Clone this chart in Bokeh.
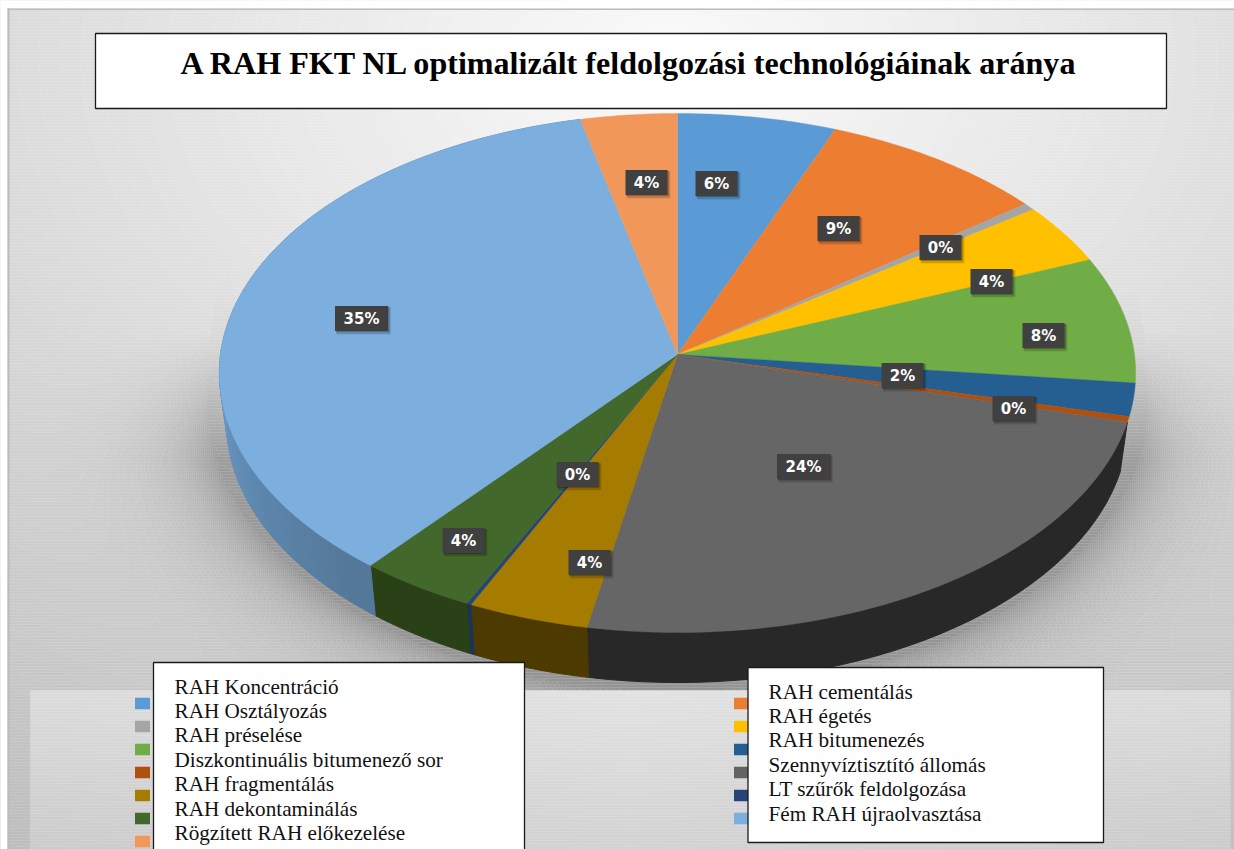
import numpy as np
from bokeh.plotting import figure
from bokeh.models import Range1d, ColumnDataSource
from bokeh.core.properties import value
from bokeh.embed import file_html
from bokeh.resources import INLINE

# ---- data -------------------------------------------------------------
title = "A RAH FKT NL optimalizált feldolgozási technológiáinak aránya"
# slices clockwise from 12 o'clock (percent)
slice_names = ["RAH Koncentráció", "RAH cementálás", "RAH Osztályozás", "RAH égetés",
               "Diszkontinuális bitumenező sor", "RAH bitumenezés", "RAH fragmentálás",
               "Szennyvíztisztító állomás", "RAH dekontaminálás", "LT szűrők feldolgozása",
               "RAH préselése", "Fém RAH újraolvasztása", "Rögzített RAH előkezelése"]
slice_values = [6.0, 8.6, 0.45, 3.8, 7.9, 2.05, 0.35, 23.8, 4.0, 0.15, 3.85, 35.4, 3.65]
slice_colors = ["#5B9BD5", "#ED7D31", "#A5A5A5", "#FFC000", "#70AD47", "#255E91", "#B0500E",
                "#666666", "#A67C00", "#264478", "#43682B", "#7CAFDD", "#F1975A"]
wall_colors = [None, None, None, None, None, None, None,
               "#282828", "#4d3a00", "#1c3358", "#2a4016", "#6090bd", None]

legend_left_colors = ["#5B9BD5", "#A5A5A5", "#70AD47", "#B0500E", "#A67C00", "#43682B", "#F1975A"]
legend_right_colors = ["#ED7D31", "#FFC000", "#255E91", "#636363", "#264478", "#7CAFDD"]
left_box_lines = ["RAH Koncentráció", "RAH Osztályozás", "RAH préselése",
                  "Diszkontinuális bitumenező sor", "RAH fragmentálás",
                  "RAH dekontaminálás", "Rögzített RAH előkezelése"]
right_box_lines = ["RAH cementálás", "RAH égetés", "RAH bitumenezés",
                   "Szennyvíztisztító állomás", "LT szűrők feldolgozása",
                   "Fém RAH újraolvasztása"]

# placement of the data labels, page pixels
label_x = [716, 838, 940, 991, 1043, 902, 1013, 803, 589, 577, 463, 361, 646]
label_y = [183, 228, 247, 281, 335, 375, 408, 466, 562, 474, 540, 318, 182]

# ---- geometry of the perspective pie -----------------------------------
CX, CY, A, B, K = 677.0, 354.0, 457.0, 258.2, 0.0713
DEPTH, SHRINK = 50.0, 0.984
W, H = 1234, 849


def rim(theta, lower=False):
    s, c = np.sin(theta), np.cos(theta)
    d = 1 + K * c
    x = CX + A * s / d
    y = CY - B * c / d
    if lower:
        x = CX + (x - CX) * SHRINK
        y = y + DEPTH
    return x, y


def mix(c1, c2, t):
    a = [int(c1[i:i + 2], 16) for i in (1, 3, 5)]
    b = [int(c2[i:i + 2], 16) for i in (1, 3, 5)]
    return "#%02x%02x%02x" % tuple(int(round(a[i] + (b[i] - a[i]) * t)) for i in range(3))


# ---- background: a shaded panel, drawn as merged runs of pixels ----------
ROW, COL = 3, 2
xx, yy = np.meshgrid(np.arange(0, W, COL) + COL / 2, np.arange(0, H, ROW) + ROW / 2)
r = np.sqrt(((xx - 670) / 900) ** 2 + ((yy - 60) / 620) ** 2)
lum = 250 - 42 * r
e = np.sqrt(((xx - 677) / 470.0) ** 2 + ((yy - 405) / 285.0) ** 2)
dist = np.clip(e - 1, 0, None) * 330
shadow = np.exp(-dist / 36.0)
left_edge = 215 - np.clip(yy - 290, 0, 235) * 0.122
right_edge = 1140 + np.clip(yy - 300, 0, 225) * 0.125
band = np.clip((yy - 290) / 170.0, 0, 1)
inside = (xx > left_edge) & (xx < right_edge) & (yy > 290) & (yy < 530)
wedge = np.where(inside, band, 0) * np.clip((535 - yy) / 60.0, 0, 1)
lum = lum - 60 * np.clip(np.maximum(shadow * np.clip((yy - 330) / 130.0, 0, 1), wedge * 0.36), 0, 1)
panel = (xx >= 30) & (xx <= 1230) & (yy >= 690)
lum = np.where(panel, 226 - (yy - 690) * 0.10 - np.abs(xx - 630) * 0.012, lum)
lum = (np.round(lum)).astype(int)

bg_l, bg_r, bg_t, bg_b, bg_c = [], [], [], [], []
for ri in range(lum.shape[0]):
    row = lum[ri]
    cuts = np.r_[0, np.nonzero(np.diff(row))[0] + 1, row.size]
    for c0, c1 in zip(cuts[:-1], cuts[1:]):
        v = int(row[c0])
        bg_l.append(int(c0) * COL)
        bg_r.append(int(c1) * COL)
        bg_t.append(ri * ROW)
        bg_b.append((ri + 1) * ROW)
        bg_c.append("#%02x%02x%02x" % (v, v, v))

# ---- figure ---------------------------------------------------------------
p = figure(width=W, height=H, output_backend="svg", toolbar_location=None,
           x_range=Range1d(0, W), y_range=Range1d(H, 0),
           min_border=0, outline_line_color=None, background_fill_color="#ffffff")
p.axis.visible = False
p.grid.visible = False
p.quad(left=bg_l, right=bg_r, top=bg_t, bottom=bg_b, fill_color=bg_c, line_color=bg_c, line_width=0.3)
# page margin strip and panel border
p.quad(left=[0, 0], right=[W, 7], top=[0, 0], bottom=[8, H], fill_color="#ffffff", line_color=None)
p.quad(left=[7, 7], right=[W, 9], top=[8, 8], bottom=[9.5, H], fill_color="#bcbcbc", line_color=None)

bounds = np.cumsum([0.0] + slice_values) / sum(slice_values) * 2 * np.pi

# walls
xs, ys, cols = [], [], []
for i in range(len(slice_values)):
    if wall_colors[i] is None:
        continue
    a0, a1 = bounds[i], bounds[i + 1]
    if slice_names[i] == "Fém RAH újraolvasztása":
        n = int((a1 - a0) / np.radians(1.5))
        edges = np.linspace(a0, a1, n + 1)
        for j in range(n):
            t = np.clip((edges[j] - np.radians(222)) / np.radians(50), 0, 1)
            th = np.linspace(edges[j], edges[j + 1], 3)
            tx, ty = rim(th)
            bx, by = rim(th, True)
            xs.append(np.r_[tx, bx[::-1]])
            ys.append(np.r_[ty, by[::-1]])
            cols.append(mix("#547899", "#6c9ccb", float(t)))
    else:
        th = np.linspace(a0, a1, 40)
        tx, ty = rim(th)
        bx, by = rim(th, True)
        xs.append(np.r_[tx, bx[::-1]])
        ys.append(np.r_[ty, by[::-1]])
        cols.append(wall_colors[i])
p.patches(xs="xs", ys="ys", fill_color="cols", line_color="cols", line_width=1.0,
          source=ColumnDataSource(dict(xs=xs, ys=ys, cols=cols)))

# top faces
xs, ys = [], []
for i in range(len(slice_values)):
    th = np.linspace(bounds[i], bounds[i + 1], max(4, int(slice_values[i] * 6)))
    tx, ty = rim(th)
    xs.append(np.r_[CX, tx])
    ys.append(np.r_[CY, ty])
p.patches(xs="xs", ys="ys", fill_color="cols", line_color="cols", line_width=0.4,
          source=ColumnDataSource(dict(xs=xs, ys=ys, cols=slice_colors)))

# data labels
label_text = ["%d%%" % int(round(v)) for v in slice_values]
label_w = [42 if len(t) < 3 else 53 for t in label_text]
src = ColumnDataSource(dict(x=label_x, y=label_y, w=label_w, t=label_text,
                            sx=[v + 2 for v in label_x], sy=[v + 2 for v in label_y],
                            sx2=[v + 1 for v in label_x], sy2=[v + 1 for v in label_y]))
p.rect(x="sx", y="sy", width="w", height=26, fill_color="#000000", fill_alpha=0.16,
       line_color="#000000", line_alpha=0.10, line_width=2, source=src)
p.rect(x="sx2", y="sy2", width="w", height=25, fill_color="#000000", fill_alpha=0.25,
       line_color=None, source=src)
p.rect(x="x", y="y", width="w", height=25, fill_color="#404040", line_color=None, source=src)
p.text(x="x", y="y", text="t", text_color="#ffffff", text_align="center", text_baseline="middle",
       text_font=value("DejaVu Sans"), text_font_style="bold", text_font_size="15px", source=src)

# legend markers (mostly covered by the boxes)
lx = [142] * len(legend_left_colors) + [741] * len(legend_right_colors)
ly = [703 + i * 23 for i in range(len(legend_left_colors))] + [703 + i * 23 for i in range(len(legend_right_colors))]
p.rect(x=lx, y=ly, width=15, height=11.5, fill_color=legend_left_colors + legend_right_colors, line_color=None)

# text boxes
p.quad(left=[95, 153, 747.5], right=[1166, 524, 1103], top=[33, 662, 667], bottom=[108, 870, 842],
       fill_color="#ffffff", line_color="#1a1a1a", line_width=1.3)
p.text(x=[629.5], y=[62], text=[title], text_align="center", text_baseline="middle",
       text_font=value("Liberation Serif"), text_font_style="bold", text_font_size="32.1px", text_color="#000000")
p.text(x=[174] * 7, y=[686 + i * 24.45 for i in range(7)], text=left_box_lines, text_baseline="middle",
       text_font=value("Liberation Serif"), text_font_size="21.2px", text_color="#111111")
p.text(x=[768] * 6, y=[691 + i * 24.4 for i in range(6)], text=right_box_lines, text_baseline="middle",
       text_font=value("Liberation Serif"), text_font_size="21.2px", text_color="#111111")

open("out.html", "w").write(file_html(p, INLINE))
